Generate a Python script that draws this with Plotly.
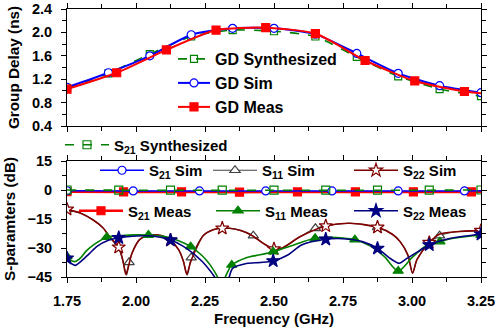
import plotly.graph_objects as go

# ---------------- data ----------------
# Group delay (ns)
gd_syn_f = [1.75, 1.90, 2.05, 2.20, 2.35, 2.50, 2.65, 2.80, 2.95, 3.10, 3.25]
gd_syn = [1.05, 1.30, 1.63, 1.93, 2.04, 2.02, 1.93, 1.58, 1.25, 1.03, 0.91]
gd_sim_f = [1.75, 1.90, 2.05, 2.20, 2.35, 2.50, 2.65, 2.80, 2.95, 3.10, 3.25]
gd_sim = [1.06, 1.31, 1.60, 1.96, 2.07, 2.07, 1.97, 1.64, 1.30, 1.09, 0.97]
gd_meas_f = [1.75, 1.93, 2.11, 2.29, 2.47, 2.65, 2.83, 3.01, 3.19, 3.25]
gd_meas = [1.03, 1.31, 1.70, 2.04, 2.08, 1.98, 1.52, 1.17, 0.99, 0.96]
gd_meas_mk_f = [1.75, 1.93, 2.11, 2.29, 2.47, 2.65, 2.83, 3.01, 3.19]
gd_meas_mk = [1.03, 1.31, 1.70, 2.04, 2.08, 1.98, 1.52, 1.17, 0.99]

# S21 (dB)
s21_syn_f = [1.75, 1.9375, 2.125, 2.3125, 2.5, 2.6875, 2.875, 3.0625, 3.25]
s21_syn = [0.0, -0.1, -0.1, -0.1, -0.1, -0.1, -0.1, -0.1, 0.0]
s21_sim_f = [1.75, 1.99, 2.23, 2.47, 2.71, 2.95, 3.19, 3.25]
s21_sim = [-0.4, -0.5, -0.5, -0.5, -0.5, -0.5, -0.5, -0.4]
s21_meas_f = [1.75, 1.955, 2.165, 2.375, 2.585, 2.795, 3.005, 3.215, 3.25]
s21_meas = [-0.9, -1.0, -1.0, -1.1, -1.0, -1.0, -1.0, -1.0, -1.0]

# S11 simulated (line and marker samples)
s11_sim_f = [1.75, 1.80, 1.845, 1.88, 1.906, 1.94, 1.958, 1.966, 1.975, 1.99, 2.014,
             2.05, 2.09, 2.125, 2.155, 2.172, 2.186, 2.20, 2.212, 2.244, 2.28, 2.3125,
             2.34, 2.38, 2.425, 2.46, 2.50, 2.53, 2.594, 2.65, 2.6875, 2.775, 2.875,
             2.93, 2.957, 2.985, 3.002, 3.018, 3.0625, 3.10, 3.16, 3.25]
s11_sim = [-10.0, -12.0, -15.5, -19.5, -24.5, -31.0, -40.0, -44.0, -37.4, -31.0, -25.5,
           -23.5, -23.5, -26.0, -31.0, -37.0, -44.0, -35.0, -31.0, -23.5, -20.5, -19.8,
           -19.8, -21.0, -23.6, -27.5, -30.5, -30.0, -24.2, -19.8, -18.6, -17.2, -19.3,
           -23.0, -26.7, -33.6, -43.0, -36.0, -27.2, -23.6, -21.6, -21.0]
s11_sim_mk_f = [1.75, 1.975, 2.20, 2.425, 2.65, 2.875, 3.10]
s11_sim_mk = [-10.0, -37.4, -35.0, -23.6, -19.8, -19.3, -23.6]

# S22 simulated
s22_sim_f = [1.75, 1.80, 1.845, 1.88, 1.906, 1.9375, 1.952, 1.963, 1.972, 1.985, 2.014,
             2.05, 2.09, 2.125, 2.155, 2.172, 2.184, 2.196, 2.208, 2.244, 2.28, 2.3125,
             2.34, 2.38, 2.42, 2.46, 2.50, 2.53, 2.594, 2.6875, 2.775, 2.875, 2.93,
             2.957, 2.985, 3.002, 3.018, 3.0625, 3.101, 3.16, 3.25]
s22_sim = [-10.0, -12.0, -15.5, -19.5, -24.5, -29.6, -36.0, -43.6, -40.0, -33.0, -25.5,
           -23.5, -23.5, -26.0, -31.0, -37.0, -43.6, -38.0, -33.6, -23.5, -20.5, -19.8,
           -19.8, -21.0, -23.5, -27.5, -30.5, -30.0, -24.2, -18.6, -17.2, -19.3, -23.0,
           -26.7, -33.6, -43.0, -36.0, -27.2, -22.8, -21.6, -21.0]
s22_sim_mk_f = [1.75, 1.9375, 2.125, 2.3125, 2.5, 2.6875, 2.875, 3.0625, 3.25]
s22_sim_mk = [-10.0, -29.6, -26.0, -19.8, -30.5, -18.6, -19.3, -27.2, -21.0]

# S11 measured
s11_meas_f = [1.75, 1.765, 1.78, 1.80, 1.82, 1.85, 1.894, 1.95, 2.00, 2.045, 2.10, 2.15,
              2.198, 2.24, 2.27, 2.292, 2.30, 2.315, 2.33, 2.347, 2.40, 2.45, 2.497, 2.55,
              2.60, 2.649, 2.70, 2.75, 2.793, 2.85, 2.90, 2.95, 3.00, 3.05, 3.101, 3.15, 3.25]
s11_meas = [-34.4, -36.5, -37.0, -35.0, -31.5, -28.0, -24.4, -23.5, -23.2, -23.3, -24.0, -26.0,
            -29.3, -34.0, -39.0, -44.0, -46.0, -47.0, -43.0, -38.8, -35.0, -33.5, -31.9, -29.5,
            -27.0, -25.0, -24.5, -24.8, -25.7, -29.0, -34.5, -41.9, -35.0, -29.0, -26.7, -25.0, -23.3]
s11_meas_mk_f = [1.75, 1.894, 2.045, 2.198, 2.347, 2.497, 2.649, 2.793, 2.95, 3.101, 3.25]
s11_meas_mk = [-34.4, -24.4, -23.3, -29.3, -38.8, -31.9, -25.0, -25.7, -41.9, -26.7, -23.3]

# S22 measured
s22_meas_f = [1.75, 1.765, 1.78, 1.80, 1.83, 1.86, 1.90, 1.9375, 2.00, 2.06, 2.125, 2.17,
              2.20, 2.24, 2.27, 2.29, 2.3125, 2.335, 2.35, 2.40, 2.45, 2.497, 2.55, 2.60,
              2.6875, 2.75, 2.82, 2.875, 2.92, 2.954, 2.98, 3.02, 3.0625, 3.14, 3.25]
s22_meas = [-35.3, -38.0, -39.0, -37.0, -33.0, -29.0, -26.0, -24.7, -23.8, -23.8, -25.9, -29.0,
            -32.0, -37.0, -42.0, -46.0, -50.0, -46.0, -40.5, -38.0, -37.5, -36.7, -33.6, -28.4,
            -25.5, -25.2, -26.7, -30.2, -35.3, -37.9, -35.5, -32.0, -28.4, -25.0, -22.9]
s22_meas_mk_f = [1.75, 1.9375, 2.125, 2.3125, 2.497, 2.6875, 2.875, 3.0625, 3.25]
s22_meas_mk = [-35.3, -24.7, -25.9, -50.0, -36.7, -25.5, -30.2, -28.4, -22.9]

x_ticks = [1.75, 2.00, 2.25, 2.50, 2.75, 3.00, 3.25]
x_tick_text = ["1.75", "2.00", "2.25", "2.50", "2.75", "3.00", "3.25"]
gd_ticks = [0.4, 0.8, 1.2, 1.6, 2.0, 2.4]
s_ticks = [-45, -30, -15, 0, 15]

# ---------------- styling ----------------
FONT = "Arial, Liberation Sans, sans-serif"
GREEN = "#008000"
BLUE = "#0000FF"
RED = "#FF0000"
DRED = "#800000"
GRAY = "#404040"
NAVY = "#000080"

fig = go.Figure()


def series(name, legend, xl, yl, xm, ym, color, width, dash, symbol, msize,
           mfill, xa, ya, smoothing=0.8):
    fig.add_trace(go.Scatter(
        x=xl, y=yl, mode="lines", xaxis=xa, yaxis=ya, showlegend=False,
        line=dict(color=color, width=width, dash=dash, shape="spline", smoothing=smoothing),
        hoverinfo="skip"))
    mk = dict(symbol=symbol, size=msize, color=mfill,
              line=dict(color=color, width=1.2))
    fig.add_trace(go.Scatter(
        x=xm, y=ym, mode="markers", xaxis=xa, yaxis=ya, showlegend=False,
        marker=mk, hoverinfo="skip"))
    fig.add_trace(go.Scatter(
        x=[None], y=[None], mode="lines+markers", xaxis=xa, yaxis=ya,
        name=name, legend=legend, showlegend=True,
        line=dict(color=color, width=width, dash=dash), marker=mk))


# top panel: group delay
series("GD Synthesized", "legend", gd_syn_f, gd_syn, gd_syn_f, gd_syn, GREEN, 1.6, "dash",
       "square-open", 7, GREEN, "x", "y", 0.6)
series("GD Sim", "legend2", gd_sim_f, gd_sim, gd_sim_f, gd_sim, BLUE, 2, "solid",
       "circle", 8, "white", "x", "y", 0.6)
series("GD Meas", "legend3", gd_meas_f, gd_meas, gd_meas_mk_f, gd_meas_mk, RED, 2, "solid",
       "square", 8, RED, "x", "y", 0.6)

# bottom panel: S-parameters
series("S<sub>11</sub> Sim", "legend6", s11_sim_f, s11_sim, s11_sim_mk_f, s11_sim_mk, GRAY, 1.2,
       "solid", "triangle-up", 9, "white", "x2", "y2")
series("S<sub>22</sub> Sim", "legend7", s22_sim_f, s22_sim, s22_sim_mk_f, s22_sim_mk, DRED, 1.6,
       "solid", "star", 10, "white", "x2", "y2")
series("S<sub>11</sub> Meas", "legend9", s11_meas_f, s11_meas, s11_meas_mk_f, s11_meas_mk, GREEN, 1.6,
       "solid", "triangle-up", 9, GREEN, "x2", "y2")
series("S<sub>22</sub> Meas", "legend10", s22_meas_f, s22_meas, s22_meas_mk_f, s22_meas_mk, NAVY, 1.6,
       "solid", "star", 10, NAVY, "x2", "y2")
series("S<sub>21</sub> Meas", "legend8", s21_meas_f, s21_meas, s21_meas_f[:-1], s21_meas[:-1], RED, 2.5,
       "solid", "square", 8, RED, "x2", "y2")
series("S<sub>21</sub> Sim", "legend5", s21_sim_f, s21_sim, s21_sim_f[:-1], s21_sim[:-1], BLUE, 1.6,
       "solid", "circle", 8, "white", "x2", "y2")
series("S<sub>21</sub> Synthesized", "legend4", s21_syn_f, s21_syn, s21_syn_f, s21_syn, GREEN, 1.6,
       "dash", "square-open", 8, GREEN, "x2", "y2")

# ---------------- layout ----------------
L, R, T, B = 67, 15, 9, 56
W, H = 496, 333
PH = H - T - B
PW = W - L - R


def px_x(px):
    return (px - L) / PW


def px_y(py):
    return (H - B - py) / PH


top_font = dict(family=FONT, size=16, color="black", weight="bold")
bot_font = dict(family=FONT, size=15, color="black", weight="bold")


def leg(xpx, ypx, font, iw):
    return dict(x=px_x(xpx), y=px_y(ypx), xanchor="left", yanchor="middle",
                bgcolor="rgba(0,0,0,0)", borderwidth=0, font=font,
                itemwidth=iw, orientation="v", tracegroupgap=0,
                itemclick=False, itemdoubleclick=False)


tickfont = dict(family=FONT, size=14.5, color="black", weight="bold")
axis_common = dict(showline=True, linecolor="black", linewidth=1, mirror="allticks",
                   ticks="outside", ticklen=5, tickwidth=1, tickcolor="black",
                   showgrid=False, zeroline=False, tickfont=tickfont, automargin=False)

fig.update_layout(
    width=W, height=H,
    margin=dict(l=L, r=R, t=T, b=B, autoexpand=False),
    paper_bgcolor="white", plot_bgcolor="white",
    font=dict(family=FONT, color="black"),
    xaxis=dict(range=[1.75, 3.25], anchor="y", domain=[0, 1], tickvals=x_ticks,
               showticklabels=False,
               minor=dict(ticks="outside", ticklen=4, dtick=0.125, tick0=1.75, tickcolor="black"),
               **axis_common),
    yaxis=dict(range=[0.4, 2.4], anchor="x", domain=[px_y(126), 1], tickvals=gd_ticks,
               ticktext=["0.4", "0.8", "1.2", "1.6", "2.0", "2.4"], ticklabelstandoff=6,
               minor=dict(ticks="outside", ticklen=4, dtick=0.2, tick0=0.4, tickcolor="black"),
               title=dict(text="Group Delay (ns)", standoff=8,
                          font=dict(family=FONT, size=15.3, weight="bold", color="black")),
               **axis_common),
    xaxis2=dict(range=[1.75, 3.25], anchor="y2", domain=[0, 1], tickvals=x_ticks,
                ticktext=x_tick_text, ticklabelstandoff=6,
                minor=dict(ticks="outside", ticklen=4, dtick=0.125, tick0=1.75, tickcolor="black"),
                title=dict(text="Frequency (GHz)", standoff=5,
                           font=dict(family=FONT, size=15, weight="bold", color="black")),
                **axis_common),
    yaxis2=dict(range=[-45, 15], anchor="x2", domain=[0, px_y(161)], tickvals=s_ticks,
                ticklabelstandoff=6,
                minor=dict(ticks="outside", ticklen=4, dtick=7.5, tick0=-45, tickcolor="black"),
                title=dict(text="S-paramters (dB)", standoff=8,
                           font=dict(family=FONT, size=15.3, weight="bold", color="black")),
                **axis_common),
    legend=leg(173, 59, top_font, 32),
    legend2=leg(173, 83, top_font, 32),
    legend3=leg(173, 107, top_font, 32),
    legend4=leg(60, 145, bot_font, 44),
    legend5=leg(95, 170.5, bot_font, 44),
    legend6=leg(208, 170.5, bot_font, 44),
    legend7=leg(349, 170.5, bot_font, 44),
    legend8=leg(74, 211, bot_font, 44),
    legend9=leg(211, 211, bot_font, 44),
    legend10=leg(349, 211, bot_font, 44),
)

fig.write_html("out.html", config={"displayModeBar": False},
               post_script="document.body.style.margin='0';document.body.style.padding='0';")
